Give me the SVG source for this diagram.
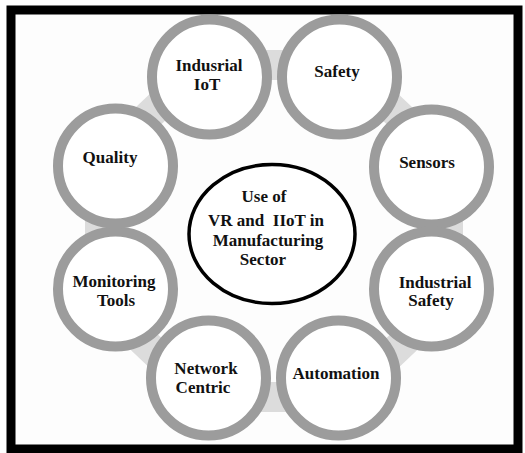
<svg xmlns="http://www.w3.org/2000/svg" width="525" height="453" viewBox="0 0 525 453">
<style>
.ring{fill:#fff;stroke:#9c9c9c;stroke-width:10}
.lbl{font-family:"Liberation Serif","Times New Roman",serif;font-weight:bold;font-size:17px;fill:#111;text-anchor:middle}
</style>
<rect x="0" y="0" width="525" height="453" fill="#fff"/>
<rect x="11" y="10" width="507" height="439" fill="#fdfdfd" stroke="#000" stroke-width="9"/>
<g id="connectors">
<polygon points="202,65 346,65 448,162 448,300 346,397 202,397 100,300 100,162" fill="none" stroke="#dcdcdc" stroke-width="30" stroke-linejoin="miter"/>
</g>
<g id="center">
<ellipse cx="272" cy="234" rx="83" ry="69.5" fill="#fff" stroke="#000" stroke-width="3.5"/>
<text class="lbl" x="264" y="202">Use of</text>
<text class="lbl" x="266" y="226" xml:space="preserve">VR and  IIoT in</text>
<text class="lbl" x="268" y="246">Manufacturing</text>
<text class="lbl" x="263" y="265">Sector</text>
</g>
<g id="industrial-iot">
<circle class="ring" cx="209.5" cy="77" r="57.5"/>
<text class="lbl" x="209" y="71">Indusrial</text>
<text class="lbl" x="207" y="90">IoT</text>
</g>
<g id="safety">
<circle class="ring" cx="339.5" cy="77" r="57.5"/>
<text class="lbl" x="337" y="77">Safety</text>
</g>
<g id="sensors">
<circle class="ring" cx="431.5" cy="167" r="57.5"/>
<text class="lbl" x="427" y="168">Sensors</text>
</g>
<g id="industrial-safety">
<circle class="ring" cx="431.5" cy="289" r="57.5"/>
<text class="lbl" x="435" y="288">Industrial</text>
<text class="lbl" x="431" y="306">Safety</text>
</g>
<g id="automation">
<circle class="ring" cx="338.5" cy="378" r="57.5"/>
<text class="lbl" x="336" y="379">Automation</text>
</g>
<g id="network-centric">
<circle class="ring" cx="208.5" cy="378" r="57.5"/>
<text class="lbl" x="206" y="374">Network</text>
<text class="lbl" x="203" y="393">Centric</text>
</g>
<g id="monitoring-tools">
<circle class="ring" cx="115.5" cy="289" r="57.5"/>
<text class="lbl" x="114" y="287">Monitoring</text>
<text class="lbl" x="116" y="306">Tools</text>
</g>
<g id="quality">
<circle class="ring" cx="115.5" cy="166" r="57.5"/>
<text class="lbl" x="110" y="163">Quality</text>
</g>
</svg>
